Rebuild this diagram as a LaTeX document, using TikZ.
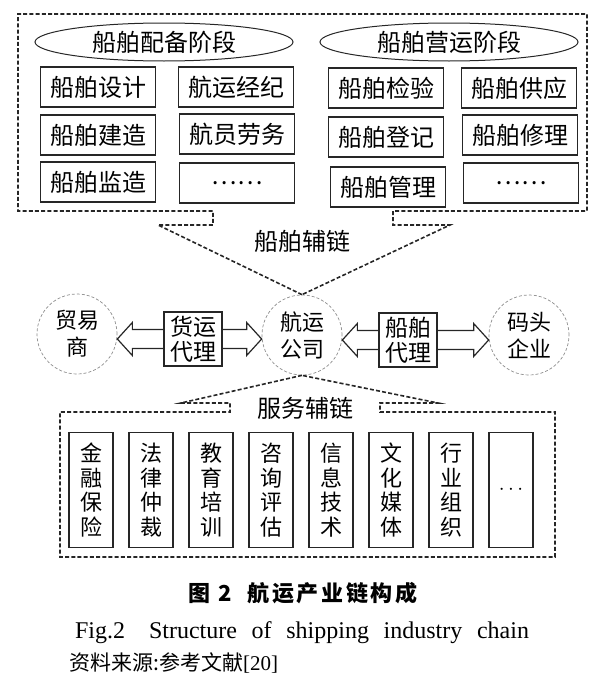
\documentclass[tikz,border=0pt]{standalone}
\usepackage{fontspec}
\setmainfont{Liberation Serif}
\newfontfamily\cjk{Noto Sans CJK SC}
\newfontfamily\cjktitle[LetterSpace=12]{Noto Sans CJK SC}
\usetikzlibrary{calc}
\usetikzlibrary{shapes.geometric}

\begin{document}
\begin{tikzpicture}[x=1pt,y=-1pt,
  chain/.style={draw=black!85, line width=1.6pt, dash pattern=on 4pt off 2.2pt},
  stage/.style={ellipse, draw=black!85, line width=1pt, minimum width=258pt, minimum height=38pt, inner sep=0pt, font=\cjk\fontsize{24}{24}\selectfont},
  item/.style={draw=black!85, line width=1.4pt, minimum width=115pt, minimum height=40pt, inner sep=0pt, font=\cjk\fontsize{24}{24}\selectfont},
  party/.style={circle, draw=black!45, densely dashed, line width=0.7pt, minimum size=80pt, inner sep=0pt, align=center, font=\cjk\fontsize{22}{27}\selectfont},
  agent/.style={draw=black!85, line width=1.2pt, minimum width=58pt, minimum height=54pt, inner sep=0pt, align=center, font=\cjk\fontsize{23}{25}\selectfont},
  service/.style={draw=black!85, line width=1.2pt, minimum width=44pt, minimum height=115pt, inner sep=0pt, align=center, font=\cjk\fontsize{22}{24.5}\selectfont},
  fat/.style={draw=black!85, line width=1.2pt},
  linktext/.style={font=\cjk\fontsize{24}{24}\selectfont}]
\useasboundingbox (0,0) rectangle (600,688);

% ship chain
\node[stage] (equip) at (164,42) {船舶配备阶段};
\node[stage] (operate) at (449,42) {船舶营运阶段};
\node[item] (design) at (98,87) {船舶设计};
\node[item] (build) at (98,135) {船舶建造};
\node[item] (supervise) at (98,182) {船舶监造};
\node[item] (broker) at (236,87) {航运经纪};
\node[item] (crew) at (237,134) {航员劳务};
\node[item] (moreA) at (237,183) {……};
\node[item] (survey) at (386,88) {船舶检验};
\node[item] (register) at (386,137) {船舶登记};
\node[item] (manage) at (388,187) {船舶管理};
\node[item] (supply) at (519,88) {船舶供应};
\node[item] (repair) at (520,135) {船舶修理};
\node[item] (moreB) at (521,183) {……};

% main chain
\node[party] (trader) at (77,334) {贸易\\商};
\node[party] (shipco) at (302,335) {航运\\公司};
\node[party] (dock) at (529,335) {码头\\企业};
\node[agent] (freight) at (193,339) {货运\\代理};
\node[agent] (shipagent) at (408,340) {船舶\\代理};
\foreach \s/\e/\d in {freight.west/trader.east/-1, freight.east/shipco.west/1, shipagent.west/shipco.east/-1, shipagent.east/dock.west/1}
  \draw[fat] let \p1=(\s), \p2=(\e) in
    (\x1,\y1+9.5pt) -- ({\x2-(\d)*15pt},\y1+9.5pt) -- ({\x2-(\d)*15pt},\y1+16.5pt) -- (\x2,\y1)
    -- ({\x2-(\d)*15pt},\y1-16.5pt) -- ({\x2-(\d)*15pt},\y1-9.5pt) -- (\x1,\y1-9.5pt);

\draw[chain] (shipco.north) -- (158,225) -- (213,225) -- (213,211) -- (18,211) -- (18,14) -- (587,14)
  -- (587,211) -- (393,211) -- (393,225) -- (450,225) -- cycle;
\node[linktext] (shiplink) at (302,241) {船舶辅链};

% service chain
\draw[chain] (shipco.south) -- (181,403) -- (230,403) -- (230,412) -- (60,412) -- (60,557) -- (555,557)
  -- (555,412) -- (380,412) -- (380,403) -- (438,403) -- cycle;
\node[linktext] (servlink) at (305,408) {服务辅链};
\foreach \t [count=\i from 0] in {金\\融\\保\\险, 法\\律\\仲\\裁, 教\\育\\培\\训, 咨\\询\\评\\估, 信\\息\\技\\术, 文\\化\\媒\\体, 行\\业\\组\\织, $\cdots$}
  \node[service] (serv\i) at ({91+60*\i},490) {\t};

% captions
\node (title) at (303,593) {\cjktitle\bfseries\fontsize{22}{22}\selectfont 图 2\hspace{16pt}航运产业链构成};
\node (figline) at (302,633) {\fontsize{24}{24}\selectfont\makebox[454pt][s]{Fig.2\quad Structure of shipping industry chain}};
\node[anchor=west, inner sep=0pt] (source) at (69,663) {\fontsize{21}{21}\selectfont\cjk 资料来源:参考文献\rmfamily[20]};
\end{tikzpicture}
\end{document}
